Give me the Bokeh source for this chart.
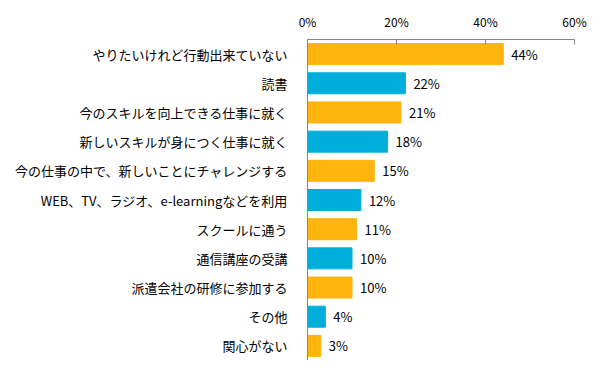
from bokeh.plotting import figure
from bokeh.embed import file_html
from bokeh.resources import INLINE
from bokeh.models import ColumnDataSource, FixedTicker, Range1d, CustomJSTickFormatter
from bokeh.core.properties import value

categories = [
    "やりたいけれど行動出来ていない",
    "読書",
    "今のスキルを向上できる仕事に就く",
    "新しいスキルが身につく仕事に就く",
    "今の仕事の中で、新しいことにチャレンジする",
    "WEB、TV、ラジオ、e-learningなどを利用",
    "スクールに通う",
    "通信講座の受講",
    "派遣会社の研修に参加する",
    "その他",
    "関心がない",
]
values = [44, 22, 21, 18, 15, 12, 11, 10, 10, 4, 3]
ticks = [0, 20, 40, 60]

ORANGE = "#FFB50D"
BLUE = "#00AEDB"
colors = [ORANGE if i % 2 == 0 else BLUE for i in range(len(categories))]
labels = [f"{v}%" for v in values]

src = ColumnDataSource(dict(cat=categories, val=values, color=colors, label=labels))

FONT = "Noto Sans CJK JP"

p = figure(width=589, height=360, y_range=list(reversed(categories)),
           x_range=Range1d(0, 60), x_axis_location="above",
           output_backend="svg", toolbar_location=None,
           min_border_left=307, min_border_right=15, min_border_top=39, min_border_bottom=0)
p.outline_line_color = None
p.grid.grid_line_color = None
p.background_fill_color = None
p.border_fill_color = "white"

p.hbar(y="cat", right="val", left=0, height=0.72, color="color", source=src)
p.text(x="val", y="cat", text="label", source=src, x_offset=8,
       text_baseline="middle", text_align="left",
       text_font=value(FONT), text_font_size="13px", text_color="#000000")

xa = p.xaxis[0]
xa.ticker = FixedTicker(ticks=ticks)
xa.formatter = CustomJSTickFormatter(code="return tick + '%'")
xa.axis_line_color = "#868686"
xa.major_tick_line_color = "#868686"
xa.major_tick_in = 5
xa.major_tick_out = 0
xa.minor_tick_line_color = None
xa.major_label_text_font = FONT
xa.major_label_text_font_size = "12px"
xa.major_label_text_color = "#000000"
xa.major_label_standoff = 10

ya = p.yaxis[0]
ya.axis_line_color = "#868686"
ya.major_tick_line_color = None
ya.minor_tick_line_color = None
ya.major_label_text_font = FONT
ya.major_label_text_font_size = "13px"
ya.major_label_text_color = "#000000"
ya.major_label_standoff = 14

open("out.html", "w").write(file_html(p, INLINE))
